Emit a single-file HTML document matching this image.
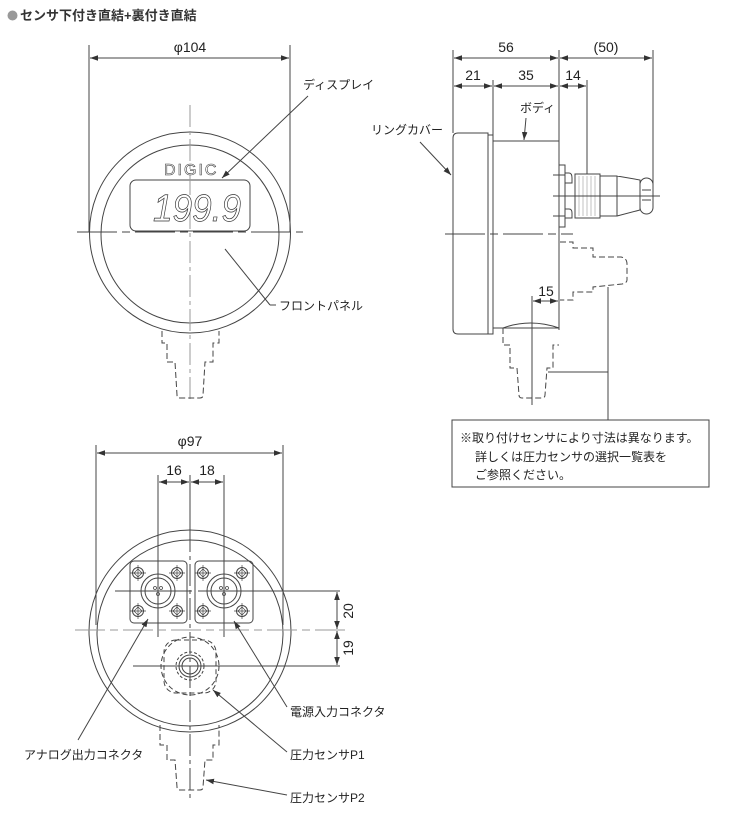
<!DOCTYPE html>
<html><head><meta charset="utf-8"><style>
body{margin:0;background:#fff}
svg{display:block}
text{font-family:"Liberation Sans","Noto Sans CJK JP",sans-serif;fill:#222}
.j{font-size:12px}
.d{font-size:14px}
</style></head><body>
<svg width="745" height="820" viewBox="0 0 745 820" xmlns="http://www.w3.org/2000/svg">
<defs>
<marker id="a" viewBox="0 0 10 10" refX="10" refY="5" markerWidth="8" markerHeight="8" orient="auto-start-reverse"><path d="M0,1.5 L10,5 L0,8.5 z" fill="#333"/></marker>
<g id="s" stroke="#444" fill="none"><circle r="5.5"/><path d="M0,-4 L4,0 L0,4 L-4,0 Z M-8,0 H8 M0,-8 V8" stroke-width="0.7"/></g>
</defs>
<circle cx="12.5" cy="15.5" r="5" fill="#999"/>
<text x="20" y="20" style="font-size:13px;font-weight:bold;fill:#333">センサ下付き直結+裏付き直結</text>

<g stroke="#444" stroke-width="1" fill="none">
<!-- FRONT VIEW -->
<line x1="89" y1="45" x2="89" y2="232"/><line x1="290" y1="45" x2="290" y2="232"/>
<line x1="90" y1="58" x2="289" y2="58" marker-start="url(#a)" marker-end="url(#a)"/>
<circle cx="190" cy="232.5" r="100.5"/>
<circle cx="190" cy="234" r="89"/>
<rect x="130" y="180" width="120" height="51" rx="6"/>
<line x1="190" y1="105" x2="190" y2="402" stroke="#999" stroke-dasharray="22,4,4,4"/>
<line x1="77" y1="232" x2="303" y2="232" stroke-dasharray="40,5,8,5"/>
<line x1="308" y1="96" x2="222" y2="178" marker-end="url(#a)"/>
<line x1="225" y1="249" x2="270" y2="305"/><line x1="270" y1="305" x2="276" y2="305"/>
<path d="M162,331 V343 H167 V362 H175 L177,395 Q177,398 180,398 H200 Q203,398 203,395 L205,362 H213 V343 H219 V331" stroke-dasharray="6,3"/>

<!-- SIDE VIEW -->
<line x1="453" y1="50" x2="453" y2="133"/><line x1="493" y1="80" x2="493" y2="135"/>
<line x1="559" y1="50" x2="559" y2="330"/><line x1="587" y1="80" x2="587" y2="174"/>
<line x1="653" y1="50" x2="653" y2="192"/>
<line x1="454" y1="58" x2="558" y2="58" marker-start="url(#a)" marker-end="url(#a)"/>
<line x1="560" y1="58" x2="652" y2="58" marker-start="url(#a)" marker-end="url(#a)"/>
<line x1="454" y1="86" x2="492" y2="86" marker-start="url(#a)" marker-end="url(#a)"/>
<line x1="494" y1="86" x2="558" y2="86" marker-start="url(#a)" marker-end="url(#a)"/>
<line x1="560" y1="86" x2="586" y2="86" marker-start="url(#a)" marker-end="url(#a)"/>
<path d="M488,133 H458 Q453,133 453,138 V329 Q453,334 458,334 H488 Z"/>
<rect x="488" y="135" width="5" height="199"/>
<path d="M493,141 H559 M493,328 H559"/>
<line x1="526" y1="118" x2="524" y2="140" marker-end="url(#a)"/>
<line x1="420" y1="142" x2="451" y2="175" marker-end="url(#a)"/>
<rect x="559" y="165" width="6" height="62"/>
<path d="M565,173 H569 Q572,173 572,178 V183 H565 M565,209 H569 Q572,209 572,213 V218 H565"/>
<rect x="575" y="174" width="25" height="44"/>
<g stroke-width="0.4" stroke="#666"><path d="M579,176V216M583,176V216M587,176V216M591,176V216M595,176V216"/></g>
<path d="M600,176 H617 V216 H600 M617,176 L640,180 V210 L617,216"/>
<rect x="640" y="178" width="13" height="36" rx="6.5"/>
<path d="M642,190 H651 M642,200 H651"/>
<line x1="553" y1="196" x2="660" y2="196"/>
<line x1="553" y1="175" x2="565" y2="175"/><line x1="553" y1="216" x2="565" y2="216"/>
<line x1="445" y1="234" x2="573" y2="234" stroke-dasharray="40,5,8,5"/>
<path d="M503,328 Q530,318 559,328" />
<path d="M503,328 V345 H510 V368 H517 L519,395 Q519,398 522,398 H542 Q545,398 545,395 L547,368 H553 V345 H559" stroke-dasharray="6,3"/>
<path d="M560,242 H573 V248 H593 V257 H621 Q627,258 627,264 V280 Q627,283 622,284 L593,287 V292 H573 V300 H560" stroke-dasharray="6,3"/>
<line x1="533" y1="301" x2="558" y2="301" marker-start="url(#a)" marker-end="url(#a)"/>
<line x1="532" y1="296" x2="532" y2="405"/>
<line x1="608" y1="287" x2="608" y2="420"/>
<line x1="548" y1="372" x2="608" y2="372"/>
<rect x="452" y="420" width="257" height="67"/>

<!-- BOTTOM VIEW -->
<line x1="96" y1="445" x2="96" y2="625"/><line x1="283" y1="445" x2="283" y2="625"/>
<line x1="97" y1="453" x2="282" y2="453" marker-start="url(#a)" marker-end="url(#a)"/>
<line x1="158" y1="475" x2="158" y2="637"/><line x1="224" y1="475" x2="224" y2="637"/>
<line x1="190" y1="475" x2="190" y2="530"/>
<line x1="159" y1="482" x2="189" y2="482" marker-start="url(#a)" marker-end="url(#a)"/>
<line x1="191" y1="482" x2="223" y2="482" marker-start="url(#a)" marker-end="url(#a)"/>
<circle cx="190" cy="631" r="101"/>
<circle cx="190" cy="633" r="93"/>
<line x1="190" y1="530" x2="190" y2="800" stroke-dasharray="22,4,4,4"/>
<line x1="75" y1="630" x2="345" y2="630" stroke="#999" stroke-dasharray="30,5,8,5"/>
<rect x="130" y="561" width="57" height="62" rx="4"/>
<rect x="195" y="561" width="58" height="62" rx="4"/>
<circle cx="158" cy="591" r="17"/><circle cx="158" cy="591" r="13"/>
<circle cx="224" cy="591" r="17"/><circle cx="224" cy="591" r="13"/>
<g stroke-width="0.8">
<circle cx="155" cy="588" r="1.5"/><circle cx="161" cy="588" r="1.5"/><circle cx="158" cy="594" r="1.5"/>
<circle cx="221" cy="588" r="1.5"/><circle cx="227" cy="588" r="1.5"/><circle cx="224" cy="594" r="1.5"/>
</g>
<use href="#s" x="138" y="573"/><use href="#s" x="177" y="573"/><use href="#s" x="138" y="611"/><use href="#s" x="177" y="611"/>
<use href="#s" x="203" y="573"/><use href="#s" x="242" y="573"/><use href="#s" x="203" y="611"/><use href="#s" x="242" y="611"/>
<line x1="115" y1="591" x2="192" y2="591"/><line x1="198" y1="591" x2="340" y2="591"/>
<line x1="133" y1="666" x2="340" y2="666"/>
<line x1="337" y1="592" x2="337" y2="629" marker-start="url(#a)" marker-end="url(#a)"/>
<line x1="337" y1="631" x2="337" y2="665" marker-start="url(#a)" marker-end="url(#a)"/>
<circle cx="190" cy="666" r="29" stroke-dasharray="5,3"/>
<rect x="164" y="640" width="52" height="53" rx="12" stroke-dasharray="5,3"/>
<circle cx="190" cy="666" r="14" stroke-dasharray="3,2"/><circle cx="190" cy="666" r="11"/><circle cx="190" cy="666" r="8"/>
<path d="M160,725 V745 H167 V760 H175 L177,787 Q177,790 180,790 H200 Q203,790 203,787 L205,760 H213 V745 H219 V725" stroke-dasharray="6,3"/>
<line x1="287" y1="707" x2="234" y2="621" marker-end="url(#a)"/>
<line x1="287" y1="752" x2="213" y2="690" marker-end="url(#a)"/>
<line x1="78" y1="740" x2="148" y2="619" marker-end="url(#a)"/>
<line x1="287" y1="795" x2="206" y2="780" marker-end="url(#a)"/>
</g>

<!-- front texts -->
<text x="190" y="52" class="d" text-anchor="middle">φ104</text>
<text x="303" y="89" class="j">ディスプレイ</text>
<text x="279" y="310" class="j">フロントパネル</text>
<text x="164" y="175" style="font-size:16px;letter-spacing:2px;fill:#fff;stroke:#444;stroke-width:0.6">DIGIC</text>
<text x="153" y="221" textLength="88" lengthAdjust="spacingAndGlyphs" style="font-size:38px;font-style:italic;fill:#fff;stroke:#333;stroke-width:0.7">199.9</text>
<!-- side texts -->
<text x="506" y="52" class="d" text-anchor="middle">56</text>
<text x="606" y="52" class="d" text-anchor="middle">(50)</text>
<text x="473" y="80" class="d" text-anchor="middle">21</text>
<text x="526" y="80" class="d" text-anchor="middle">35</text>
<text x="573" y="80" class="d" text-anchor="middle">14</text>
<text x="520" y="112" class="j">ボディ</text>
<text x="371" y="134" class="j">リングカバー</text>
<text x="546" y="296" class="d" text-anchor="middle">15</text>
<text x="460" y="442" class="j">※取り付けセンサにより寸法は異なります。</text>
<text x="475" y="461" class="j">詳しくは圧力センサの選択一覧表を</text>
<text x="475" y="479" class="j">ご参照ください。</text>
<!-- bottom texts -->
<text x="190" y="446" class="d" text-anchor="middle">φ97</text>
<text x="174" y="475" class="d" text-anchor="middle">16</text>
<text x="207" y="475" class="d" text-anchor="middle">18</text>
<text transform="translate(353,611) rotate(-90)" class="d" text-anchor="middle">20</text>
<text transform="translate(353,648) rotate(-90)" class="d" text-anchor="middle">19</text>
<text x="290" y="716" class="j">電源入力コネクタ</text>
<text x="290" y="759" class="j">圧力センサP1</text>
<text x="24" y="759" class="j">アナログ出力コネクタ</text>
<text x="290" y="802" class="j">圧力センサP2</text>
</svg>
</body></html>
